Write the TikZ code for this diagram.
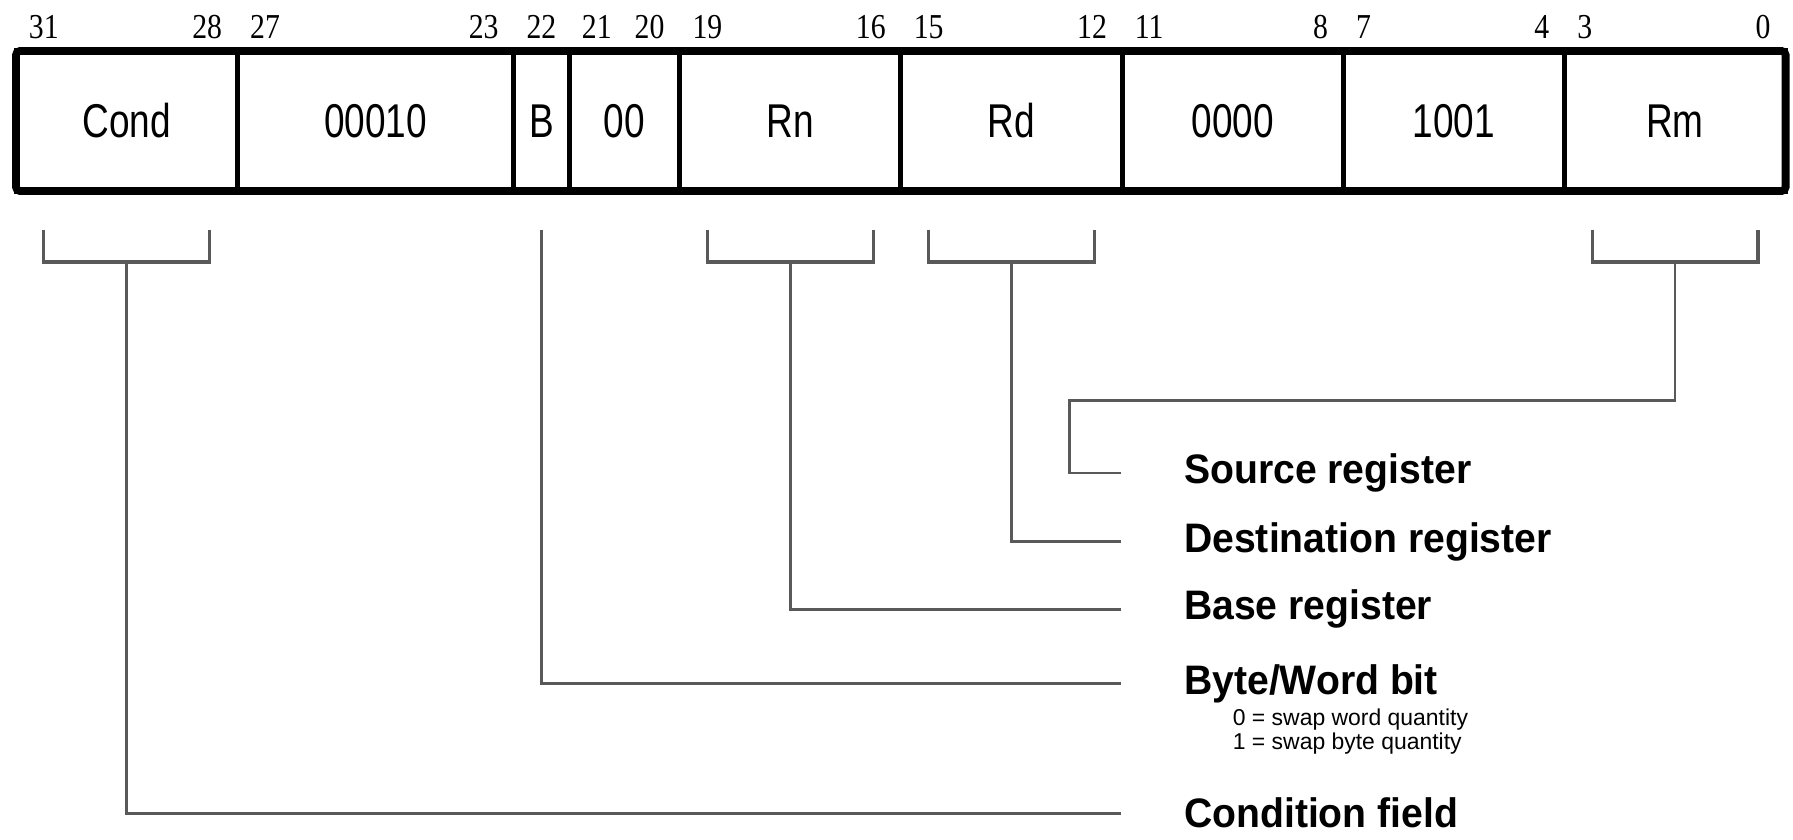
\documentclass[tikz,border=0pt]{standalone}
\usepackage{fontspec}
\setmainfont{Liberation Sans}
\newfontfamily\campofont[FakeStretch=0.78]{Liberation Sans}
\newfontfamily\numfont[FakeStretch=0.85]{Liberation Serif}
\newfontfamily\etichfont[FakeStretch=0.95]{Liberation Sans}
\usetikzlibrary{calc}
\definecolor{grigiolinea}{gray}{0.35}
\tikzset{
  campo/.style={draw=black, line width=1.3pt, minimum height=1.266cm, inner sep=0pt, outer sep=0pt, anchor=north west, font=\campofont\fontsize{12.2}{14}\selectfont},
  numbit/.style={inner sep=0pt, font=\numfont\fontsize{9}{10}\selectfont},
  staffa/.style={draw=grigiolinea, line width=0.8pt},
  linea/.style={draw=grigiolinea, line width=0.7pt, shorten >=0.56cm},
  etich/.style={anchor=mid west, inner sep=0pt, font=\etichfont\bfseries\fontsize{10.6}{12}\selectfont},
  nota/.style={anchor=north west, align=left, inner sep=0pt, font=\fontsize{5.9}{6.3}\selectfont}
}
\begin{document}
\begin{tikzpicture}
  \useasboundingbox (0,0) rectangle (16.212,-7.595);

  % Campi dell'istruzione
  \foreach \nome/\alto/\n/\testo in {cond/31/4/Cond, opc/27/5/00010, bbit/22/1/B, zz/21/2/00, rn/19/4/Rn, rd/15/4/Rd, sbz/11/4/0000, swp/7/4/1001, rm/3/4/Rm}{
    \pgfmathtruncatemacro{\basso}{\alto-\n+1}
    \node[campo, minimum width=\n*0.5cm] (\nome) at ({0.145+(31-\alto)*0.5}, -0.461) {\testo};
    % numeri dei bit
    \ifnum\n=1
      \node[numbit, anchor=base] (n\alto) at ($(\nome.north)+(0,0.11)$) {\alto};
    \else
      \node[numbit, anchor=base west] (n\alto) at ($(\nome.north west)+(0.11,0.11)$) {\alto};
      \node[numbit, anchor=base east] (n\basso) at ($(\nome.north east)+(-0.13,0.11)$) {\basso};
    \fi
  }
  % Cornice esterna
  \draw[line width=2pt, rounded corners=1pt] (cond.north west) rectangle (rm.south east);

  % Descrizioni
  \node[etich] (src) at (10.70,-4.28) {Source register};
  \node[etich] (dst) at (10.70,-4.901) {Destination register};
  \node[etich] (base) at (10.70,-5.511) {Base register};
  \node[etich] (bw) at (10.70,-6.183) {Byte/Word bit};
  \node[nota] (bwnota) at (11.14,-6.40) {0 = swap word quantity\\1 = swap byte quantity};
  \node[etich] (cf) at (10.70,-7.393) {Condition field};

  % Staffe sotto i campi
  \foreach \nome in {cond,rn,rd,rm}
    \draw[staffa] ($(\nome.south west)+(0.25,-0.35)$) |- ($(\nome.south)+(0,-0.642)$) -| ($(\nome.south east)+(-0.25,-0.35)$);

  % Collegamenti
  \draw[linea] ($(rm.south)+(0,-0.642)$) |- (9.667,-3.618) |- (src.west);
  \draw[linea] ($(rd.south)+(0,-0.642)$) |- (dst.west);
  \draw[linea] ($(rn.south)+(0,-0.642)$) |- (base.west);
  \draw[linea] ($(bbit.south)+(0,-0.35)$) |- (bw.west);
  \draw[linea] ($(cond.south)+(0,-0.642)$) |- (cf.west);
\end{tikzpicture}
\end{document}
